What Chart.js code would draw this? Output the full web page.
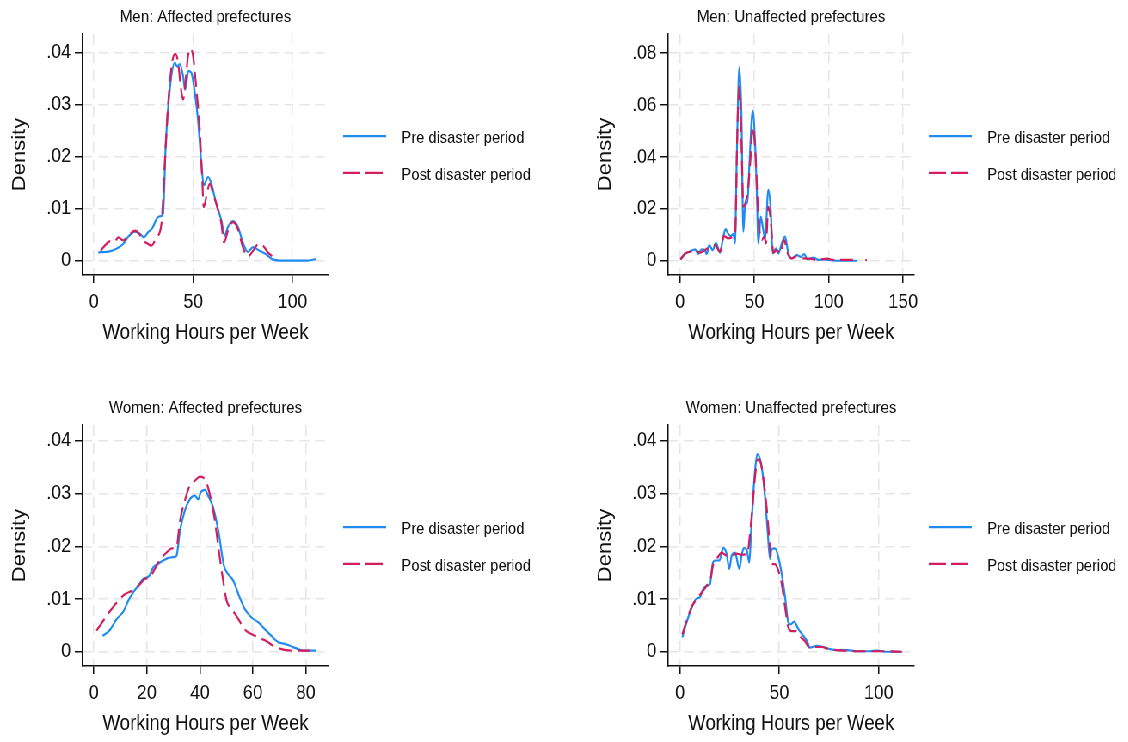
<!DOCTYPE html>
<html>
<head>
<meta charset="utf-8">
<title>Working hours per week – kernel densities</title>
<script src="https://cdn.jsdelivr.net/npm/chart.js@4.4.1/dist/chart.umd.min.js"></script>
<style>
  html, body { margin: 0; padding: 0; background: #fff; overflow: hidden; }
  /* the figure is laid out wider and squeezed horizontally, like the source image */
  #page { position: relative; width: 1312px; height: 742px; transform: scaleX(0.86); transform-origin: 0 0; }
  #page canvas { position: absolute; }
</style>
</head>
<body>
<div id="page">
  <canvas id="menAffected" width="631" height="360" style="left:0;top:0;width:631px;height:360px"></canvas>
  <canvas id="menUnaffected" width="631" height="360" style="left:681px;top:0;width:631px;height:360px"></canvas>
  <canvas id="womenAffected" width="631" height="360" style="left:0;top:391px;width:631px;height:360px"></canvas>
  <canvas id="womenUnaffected" width="631" height="360" style="left:681px;top:391px;width:631px;height:360px"></canvas>
</div>
<script>
  "use strict";

  // ---- data ----
  const seriesLabels = ["Pre disaster period", "Post disaster period"];

  const menAffPreHours = [2.2, 8.0, 11.4, 14.7, 17.3, 20.6, 23.1, 25.1, 27.3, 29.5, 31.8, 34.0, 34.8, 36.2, 38.2, 40.7, 42.0, 43.2, 44.9, 45.9, 47.6, 49.1, 50.8, 52.4, 54.1, 55.3, 57.5, 59.1, 61.6, 64.2, 65.8, 67.5, 70.0, 72.5, 75.0, 77.5, 80.1, 83.4, 86.8, 89.8, 95.1, 103.5, 106.9, 111.9];
  const menAffPreDensity = [0.0016, 0.0018, 0.0023, 0.0032, 0.0046, 0.0056, 0.0052, 0.0045, 0.0055, 0.0063, 0.0082, 0.0086, 0.0090, 0.0226, 0.0329, 0.0381, 0.0373, 0.0378, 0.0355, 0.0329, 0.0365, 0.0361, 0.0323, 0.0271, 0.0187, 0.0145, 0.0161, 0.0148, 0.011, 0.0077, 0.0048, 0.0065, 0.0076, 0.0065, 0.0035, 0.0017, 0.0026, 0.0019, 0.0012, 0.0003, 0, 0, 0, 0.0003];
  const menAffPostHours = [3.4, 5.5, 8.0, 10.6, 12.2, 14.7, 17.3, 20.6, 22.8, 24.8, 27.0, 29.0, 31.5, 34.0, 35.7, 37.4, 39.5, 41.0, 42.4, 43.7, 44.9, 46.2, 47.4, 48.6, 49.9, 51.6, 53.3, 54.4, 55.3, 56.6, 58.3, 60.0, 62.5, 64.2, 65.5, 67.5, 70.0, 72.5, 75.0, 77.5, 80.1, 82.9, 85.1, 87.6, 89.8];
  const menAffPostDensity = [0.0019, 0.0029, 0.0037, 0.0037, 0.0045, 0.0039, 0.0048, 0.0058, 0.0052, 0.0039, 0.0033, 0.0029, 0.0045, 0.0071, 0.0187, 0.0303, 0.0384, 0.0398, 0.0381, 0.0335, 0.031, 0.0348, 0.0394, 0.0408, 0.0394, 0.0329, 0.0252, 0.0168, 0.0103, 0.0123, 0.0148, 0.0129, 0.0097, 0.0071, 0.0035, 0.0058, 0.0074, 0.0061, 0.0026, 0.0008, 0.0019, 0.0032, 0.0029, 0.0016, 0.0008];

  const menUnaffPreHours = [0.4, 3.4, 6.7, 10.1, 12.3, 14.6, 16.8, 17.9, 19.7, 22.0, 24.2, 26.9, 29.1, 30.7, 32.5, 34.1, 35.9, 37.0, 38.1, 39.9, 41.3, 42.6, 43.9, 45.3, 46.6, 48.9, 50.4, 51.6, 52.7, 54.3, 55.6, 57.2, 59.4, 61.0, 62.3, 64.6, 66.1, 68.4, 70.6, 72.9, 75.1, 78.5, 81.2, 83.4, 85.7, 89.7, 93.0, 96.4, 100.9, 105.4, 109.9, 118.8];
  const menUnaffPreDensity = [0.0005, 0.0026, 0.0035, 0.0044, 0.0026, 0.0044, 0.0041, 0.0026, 0.006, 0.0041, 0.0069, 0.0031, 0.0093, 0.0122, 0.0103, 0.0095, 0.0103, 0.0067, 0.0376, 0.0745, 0.0568, 0.0112, 0.0221, 0.0221, 0.0363, 0.0578, 0.0466, 0.0273, 0.0067, 0.017, 0.0131, 0.0086, 0.0273, 0.0196, 0.0028, 0.0048, 0.0028, 0.0067, 0.0093, 0.0026, 0.0009, 0.0022, 0.0015, 0.0026, 0.0005, 0.0012, 0.0003, 0.0005, 0.0003, 0, 0, 0];
  const menUnaffPostHours = [0.4, 3.4, 6.7, 10.1, 13.5, 16.8, 20.2, 23.5, 26.9, 29.6, 32.5, 35.9, 37.2, 38.6, 39.9, 41.3, 42.6, 43.9, 45.9, 47.5, 48.9, 50.7, 52.0, 53.4, 55.0, 56.7, 57.8, 59.4, 61.0, 62.8, 65.0, 67.3, 70.0, 72.2, 75.1, 78.5, 83.0, 87.4, 91.9, 98.7, 103.1, 109.9, 118.8, null, 124.6, 125.6];
  const menUnaffPostDensity = [0.0005, 0.0028, 0.0035, 0.0041, 0.0031, 0.0041, 0.0054, 0.006, 0.0035, 0.0095, 0.0086, 0.0093, 0.0118, 0.0504, 0.0672, 0.0466, 0.0208, 0.0221, 0.0286, 0.0401, 0.0517, 0.0414, 0.0247, 0.0118, 0.008, 0.0093, 0.0067, 0.0208, 0.0157, 0.0031, 0.0041, 0.0028, 0.008, 0.0031, 0.0009, 0.0018, 0.0009, 0.0008, 0.0003, 0.0008, 0.0003, 0.0003, 0.0003, null, 0.0002, 0.0002];

  const womenAffPreHours = [3.3, 6.0, 8.6, 11.1, 13.0, 14.8, 16.7, 18.6, 20.9, 22.4, 24.3, 26.2, 28.1, 29.3, 30.6, 31.2, 32.5, 34.3, 36.2, 38.1, 39.4, 40.3, 41.9, 43.1, 45.0, 47.0, 49.1, 50.7, 52.6, 54.8, 57.0, 59.5, 62.0, 64.5, 67.0, 69.6, 72.1, 74.6, 77.1, 79.6, 84.0];
  const womenAffPreDensity = [0.003, 0.0041, 0.0062, 0.0076, 0.0097, 0.0112, 0.0125, 0.0138, 0.0144, 0.016, 0.0167, 0.0173, 0.0178, 0.0179, 0.018, 0.0182, 0.0229, 0.0267, 0.0289, 0.0296, 0.0289, 0.0302, 0.0307, 0.0296, 0.0274, 0.0229, 0.0163, 0.0147, 0.0135, 0.0106, 0.0081, 0.0065, 0.0056, 0.0043, 0.003, 0.0018, 0.0015, 0.001, 0.0005, 0.0002, 0.0002];
  const womenAffPostHours = [1.0, 2.9, 4.8, 6.7, 9.2, 11.7, 13.6, 15.5, 17.4, 19.2, 21.1, 23.0, 24.9, 27.4, 29.3, 31.2, 32.5, 34.3, 36.2, 38.1, 40.0, 41.3, 42.5, 44.0, 45.7, 47.0, 48.8, 50.1, 52.0, 53.8, 55.7, 57.6, 60.1, 62.6, 65.2, 67.7, 70.2, 72.7, 76.5, 80.3, 84.0];
  const womenAffPostDensity = [0.004, 0.0054, 0.0068, 0.0081, 0.0097, 0.0109, 0.0114, 0.0117, 0.0128, 0.0138, 0.0141, 0.0157, 0.0174, 0.0188, 0.0196, 0.0199, 0.0248, 0.0286, 0.0315, 0.0324, 0.0332, 0.033, 0.0321, 0.0293, 0.0248, 0.0198, 0.0135, 0.0097, 0.0081, 0.0068, 0.0052, 0.0039, 0.0032, 0.0026, 0.002, 0.0011, 0.0006, 0.0003, 0.0002, 0.0002, 0.0006];

  const womenUnaffPreHours = [1.2, 3.4, 5.9, 8.1, 10.1, 11.7, 13.4, 15.1, 16.4, 17.6, 19.8, 21.8, 23.5, 24.8, 26.0, 27.7, 29.9, 31.0, 32.2, 33.6, 34.9, 35.9, 36.9, 37.9, 38.9, 40.3, 41.6, 42.8, 44.1, 45.3, 46.1, 47.8, 49.5, 51.2, 52.9, 54.5, 55.7, 57.4, 59.6, 62.1, 63.8, 65.4, 68.8, 72.1, 75.5, 78.9, 83.9, 88.9, 95.6, 99.0, 104.0, 111.6];
  const womenUnaffPreDensity = [0.0027, 0.0056, 0.0084, 0.01, 0.0104, 0.0119, 0.0125, 0.0128, 0.0166, 0.0173, 0.0173, 0.0197, 0.0185, 0.0157, 0.0182, 0.0188, 0.0157, 0.0182, 0.0197, 0.0193, 0.0169, 0.0236, 0.0299, 0.0349, 0.0375, 0.0365, 0.0337, 0.0293, 0.0229, 0.0176, 0.0195, 0.0196, 0.0179, 0.0147, 0.0103, 0.0056, 0.0052, 0.0057, 0.0043, 0.003, 0.0021, 0.0008, 0.0011, 0.0009, 0.0005, 0.0003, 0.0003, 0.0001, 0.0001, 0.0002, 0, 0];
  const womenUnaffPostHours = [1.2, 3.4, 5.9, 8.4, 10.9, 13.4, 15.4, 16.8, 18.5, 21.0, 23.5, 26.0, 28.5, 31.0, 33.9, 35.2, 36.6, 37.9, 39.3, 40.6, 41.9, 43.6, 45.3, 46.1, 47.8, 49.5, 51.2, 52.9, 54.5, 56.2, 58.4, 60.7, 62.9, 65.1, 68.0, 71.3, 74.7, 78.9, 83.9, 88.9, 95.6, 104.0, 111.6];
  const womenUnaffPostDensity = [0.0033, 0.0059, 0.0085, 0.01, 0.0112, 0.0125, 0.0138, 0.0167, 0.0176, 0.0188, 0.0182, 0.0182, 0.0186, 0.0184, 0.0186, 0.0223, 0.028, 0.0337, 0.0365, 0.0359, 0.033, 0.0274, 0.0198, 0.0167, 0.0166, 0.0154, 0.0128, 0.0084, 0.0046, 0.0039, 0.0039, 0.0028, 0.002, 0.0008, 0.0009, 0.0009, 0.0005, 0.0003, 0.0002, 0.0001, 0.0001, 0.0001, 0];

  // tick values / labels
  const xTicksBy50 = [0, 50, 100];
  const xTicksTo150 = [0, 50, 100, 150];
  const xTicksBy20 = [0, 20, 40, 60, 80];
  const yTicksSmall = [0, 0.01, 0.02, 0.03, 0.04];
  const yLabelsSmall = ["0", ".01", ".02", ".03", ".04"];
  const yTicksLarge = [0, 0.02, 0.04, 0.06, 0.08];
  const yLabelsLarge = ["0", ".02", ".04", ".06", ".08"];

  // ---- styling ----
  const FONT = '"Liberation Sans", Arial, Helvetica, sans-serif';
  const INK = "#111";
  const BLUE = "#1f8bf3";
  const RED = "#d51d5c";
  const CANVAS_W = 631;
  const CANVAS_H = 360;
  const PLOT_LEFT = 96;
  const PLOT_RIGHT = 382;
  const PLOT_BOTTOM = 275;

  Chart.defaults.font.family = FONT;
  Chart.defaults.color = INK;

  // legend to the right of the plot region, Stata style
  const sideLegend = {
    id: "sideLegend",
    afterDraw(chart, args, opts) {
      const { ctx, chartArea } = chart;
      const mid = (chartArea.top + chartArea.bottom) / 2;
      ctx.save();
      chart.data.datasets.forEach((ds, i) => {
        const y = mid + (i - 0.5) * opts.spacing;
        ctx.beginPath();
        ctx.setLineDash(ds.borderDash ? opts.dash : []);
        ctx.strokeStyle = ds.borderColor;
        ctx.lineWidth = ds.borderWidth;
        ctx.moveTo(chartArea.right + 17, y);
        ctx.lineTo(chartArea.right + 67, y);
        ctx.stroke();
        ctx.setLineDash([]);
        ctx.fillStyle = INK;
        ctx.font = `17px ${FONT}`;
        ctx.textBaseline = "middle";
        ctx.textAlign = "left";
        ctx.fillText(ds.label, chartArea.right + 85, y + 2);
      });
      ctx.restore();
    },
  };

  const toPoints = (hours, density) => hours.map((h, i) => ({ x: h, y: density[i] }));

  function axisStyle(tickLength) {
    return {
      grid: { color: "#e6e6e6", lineWidth: 1.5, tickColor: INK, tickWidth: 1.5, tickLength },
      border: { color: INK, width: 1.5, dash: [11, 7] },
    };
  }

  function drawPanel(p) {
    const canvas = document.getElementById(p.id);
    new Chart(canvas, {
      type: "line",
      data: {
        datasets: [
          {
            label: seriesLabels[0],
            data: toPoints(p.preHours, p.preDensity),
            borderColor: BLUE,
            borderWidth: 2.2,
            pointRadius: 0,
            cubicInterpolationMode: "monotone",
            order: 1,
          },
          {
            label: seriesLabels[1],
            data: toPoints(p.postHours, p.postDensity),
            borderColor: RED,
            borderWidth: 2.2,
            borderDash: [15, 7],
            pointRadius: 0,
            cubicInterpolationMode: "monotone",
            order: 0,
          },
        ],
      },
      options: {
        responsive: false,
        animation: false,
        events: [],
        layout: { padding: { left: 0, right: CANVAS_W - PLOT_RIGHT, top: 0, bottom: 0 } },
        plugins: {
          legend: { display: false },
          tooltip: { enabled: false },
          title: {
            display: true,
            text: p.title,
            fullSize: false,
            color: INK,
            font: { size: 17.4, weight: "normal" },
            padding: { top: 6.5, bottom: 6.6 },
          },
          sideLegend: { spacing: 36.7, dash: [20, 6] },
        },
        scales: {
          x: {
            type: "linear",
            min: p.xMin,
            max: p.xMax,
            ...axisStyle(8),
            afterBuildTicks: (s) => { s.ticks = p.xTicks.map((v) => ({ value: v })); },
            afterFit: (s) => { s.height = CANVAS_H - PLOT_BOTTOM; },
            ticks: { padding: 7, font: { size: 20.5 }, color: INK, maxRotation: 0 },
            title: {
              display: true,
              text: "Working Hours per Week",
              color: INK,
              font: { size: 21.5 },
              padding: { top: 0, bottom: 14 },
            },
          },
          y: {
            type: "linear",
            min: p.yMin,
            max: p.yMax,
            ...axisStyle(9),
            afterBuildTicks: (s) => { s.ticks = p.yTicks.map((v) => ({ value: v })); },
            afterFit: (s) => { s.width = PLOT_LEFT; },
            ticks: {
              padding: 4.5,
              font: { size: 20.5 },
              color: INK,
              callback: (v) => p.yLabels[p.yTicks.indexOf(v)],
            },
            title: {
              display: true,
              text: "Density",
              color: INK,
              font: { size: 22 },
              padding: { top: 10, bottom: 0 },
            },
          },
        },
      },
      plugins: [sideLegend],
    });
  }

  [
    {
      id: "menAffected", title: "Men: Affected prefectures",
      preHours: menAffPreHours, preDensity: menAffPreDensity,
      postHours: menAffPostHours, postDensity: menAffPostDensity,
      xMin: -5.7, xMax: 118.1, xTicks: xTicksBy50,
      yMin: -0.00275, yMax: 0.0436, yTicks: yTicksSmall, yLabels: yLabelsSmall,
    },
    {
      id: "menUnaffected", title: "Men: Unaffected prefectures",
      preHours: menUnaffPreHours, preDensity: menUnaffPreDensity,
      postHours: menUnaffPostHours, postDensity: menUnaffPostDensity,
      xMin: -7.9, xMax: 157.4, xTicks: xTicksTo150,
      yMin: -0.0055, yMax: 0.0874, yTicks: yTicksLarge, yLabels: yLabelsLarge,
    },
    {
      id: "womenAffected", title: "Women: Affected prefectures",
      preHours: womenAffPreHours, preDensity: womenAffPreDensity,
      postHours: womenAffPostHours, postDensity: womenAffPostDensity,
      xMin: -4.26, xMax: 88.56, xTicks: xTicksBy20,
      yMin: -0.0027, yMax: 0.043, yTicks: yTicksSmall, yLabels: yLabelsSmall,
    },
    {
      id: "womenUnaffected", title: "Women: Unaffected prefectures",
      preHours: womenUnaffPreHours, preDensity: womenUnaffPreDensity,
      postHours: womenUnaffPostHours, postDensity: womenUnaffPostDensity,
      xMin: -5.9, xMax: 117.8, xTicks: xTicksBy50,
      yMin: -0.0027, yMax: 0.043, yTicks: yTicksSmall, yLabels: yLabelsSmall,
    },
  ].forEach(drawPanel);
</script>
</body>
</html>
